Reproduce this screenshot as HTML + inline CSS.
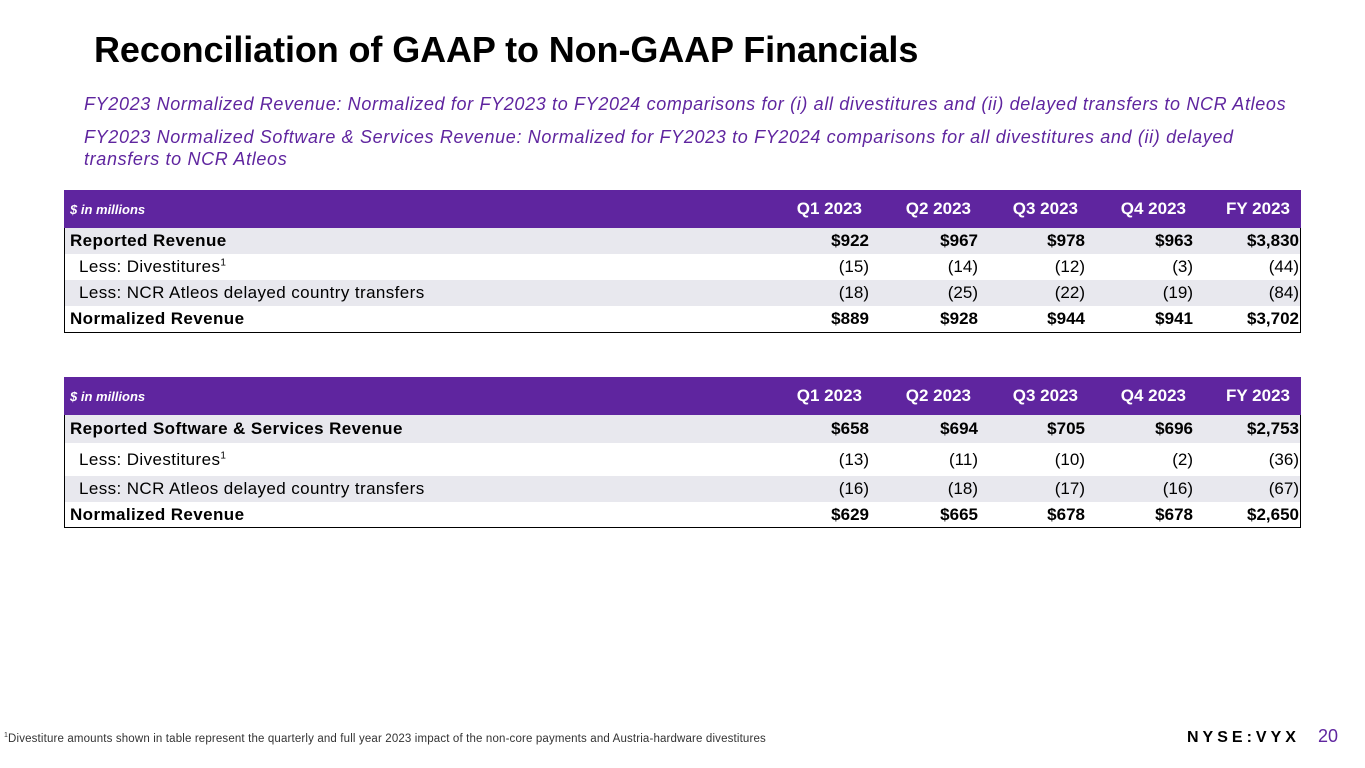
<!DOCTYPE html>
<html><head><meta charset="utf-8"><style>
*{margin:0;padding:0;box-sizing:border-box}
body{width:1365px;height:768px;background:#fff;position:relative;overflow:hidden;font-family:"Liberation Sans",sans-serif;color:#000}
.abs{position:absolute}
h1{position:absolute;left:94px;top:29px;font-size:36px;font-weight:bold;letter-spacing:-0.1px}
.sub{position:absolute;left:84px;font-size:18px;letter-spacing:0.65px;font-style:italic;color:#5f259f;line-height:22px;width:1170px}
.tbl{position:absolute;left:64px;width:1237px}
.hdr{height:38px;background:#5f259f;color:#fff;position:relative;font-weight:bold;font-size:17px}
.hdr .lbl{position:absolute;left:6px;top:12px;font-size:13px;font-style:italic}
.body{border:1.5px solid #000;border-top:none}
.row{position:relative;font-size:17px}
.row.g{background:#e8e8ee}
.row .lbl{position:absolute;left:5px;letter-spacing:0.4px}
.c{position:absolute;text-align:right;width:100px}
.b{font-weight:bold}
</style></head><body>
<h1>Reconciliation of GAAP to Non-GAAP Financials</h1>
<div class="sub" style="top:93px;white-space:nowrap">FY2023 Normalized Revenue: Normalized for FY2023 to FY2024 comparisons for (i) all divestitures and (ii) delayed transfers to NCR Atleos</div>
<div class="sub" style="top:126px">FY2023 Normalized Software &amp; Services Revenue: Normalized for FY2023 to FY2024 comparisons for all divestitures and (ii) delayed transfers to NCR Atleos</div>
<div id="t1" class="tbl" style="top:190px"></div>
<div id="t2" class="tbl" style="top:377px"></div>
<div class="abs" style="left:4px;top:732px;font-size:11.5px;letter-spacing:0.15px;color:#333"><sup style="font-size:7px">1</sup>Divestiture amounts shown in table represent the quarterly and full year 2023 impact of the non-core payments and Austria-hardware divestitures</div>
<div class="abs" style="left:1187px;top:729px;font-size:16px;font-weight:bold;letter-spacing:4px">NYSE:VYX</div>
<div class="abs" style="left:1318px;top:726px;font-size:18px;color:#5f259f">20</div>
<script>
const headers=["Q1 2023","Q2 2023","Q3 2023","Q4 2023","FY 2023"];
const colRight=[868,977,1084,1192,1300];
const hdrRight=[862,971,1078,1186,1290];
const t1Labels=["Reported Revenue","Less: Divestitures","Less: NCR Atleos delayed country transfers","Normalized Revenue"];
const t1Values=[["$922","$967","$978","$963","$3,830"],["(15)","(14)","(12)","(3)","(44)"],["(18)","(25)","(22)","(19)","(84)"],["$889","$928","$944","$941","$3,702"]];
const t2Labels=["Reported Software & Services Revenue","Less: Divestitures","Less: NCR Atleos delayed country transfers","Normalized Revenue"];
const t2Values=[["$658","$694","$705","$696","$2,753"],["(13)","(11)","(10)","(2)","(36)"],["(16)","(18)","(17)","(16)","(67)"],["$629","$665","$678","$678","$2,650"]];
function build(id,labels,values,heights){
  const t=document.getElementById(id);
  const h=document.createElement('div');h.className='hdr';
  
  
  h.innerHTML='<span class="lbl">$ in millions</span>';
  headers.forEach((x,i)=>{const s=document.createElement('span');s.className='c';s.textContent=x;s.style.left=(hdrRight[i]-64-100)+'px';s.style.top='9px';
    
    
    h.appendChild(s);});
  t.appendChild(h);
  const b=document.createElement('div');b.className='body';t.appendChild(b);
  labels.forEach((l,r)=>{
    const row=document.createElement('div');row.className='row'+(r%2==0?' g':'');
    
    
    row.style.height=heights[r]+'px';
    const bold=(r==0||r==3);
    const top=Math.round((heights[r]-20)/2)+'px';
    const lab=document.createElement('span');lab.className='lbl'+(bold?' b':'');lab.style.top=top;
    if(!bold){lab.style.left='14px';}
    lab.innerHTML=l.replace('&','&amp;')+(r==1?'<sup style="font-size:10px">1</sup>':'');
    row.appendChild(lab);
    values[r].forEach((v,i)=>{const s=document.createElement('span');s.className='c'+(bold?' b':'');s.textContent=v;s.style.left=(colRight[i]-64-100-(i==4?2:0))+'px';s.style.top=top;
      
      
      row.appendChild(s);});
    b.appendChild(row);
  });
}
build('t1',t1Labels,t1Values,[26,26,26,26]);
build('t2',t2Labels,t2Values,[28,33,26,25]);
</script>
</body></html>
